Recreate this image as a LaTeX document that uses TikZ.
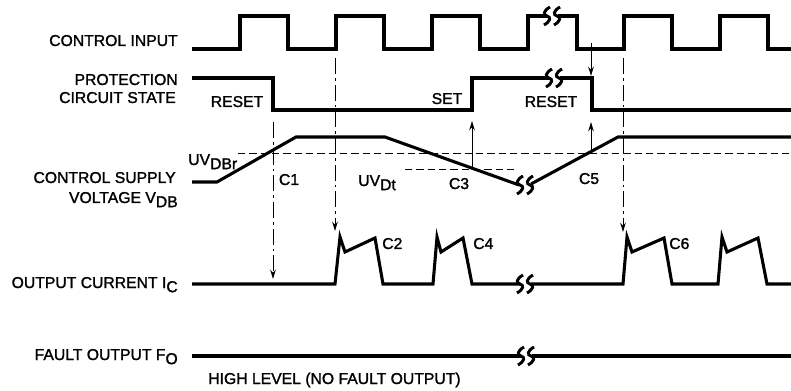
\documentclass[tikz,border=0pt]{standalone}
\usepackage{fontspec}
\setmainfont{Liberation Sans}[FakeBold=1.4]
\usetikzlibrary{arrows.meta}
\newcommand\sbs[1]{\raisebox{-0.5ex}{#1}}
\begin{document}
\begin{tikzpicture}[x=0.75pt,y=-0.75pt,
  sig/.style={line width=2.3pt, line join=miter, line cap=butt},
  thr/.style={line width=0.7pt, dash pattern=on 5.5pt off 3pt},
  dd/.style={line width=0.75pt, dash pattern=on 12pt off 3pt on 2pt off 3pt, -{Stealth[length=7pt,width=4.2pt]}},
  sa/.style={line width=0.75pt, -{Stealth[length=7pt,width=4.2pt]}},
  lbl/.style={inner sep=0pt, font=\fontsize{11.8}{13}\selectfont},
  brk/.pic={\draw[line width=2.2pt] (-2,-9) .. controls (-9,-5) and (-9,-1) .. (-5,0) .. controls (-1,1) and (-1,5) .. (-8,9);
            \draw[line width=2.2pt] (8,-9) .. controls (1,-5) and (1,-1) .. (5,0) .. controls (9,1) and (9,5) .. (2,9);}
  ]
\useasboundingbox (0,0) rectangle (791,391);

% left labels
\node[lbl, anchor=base east] (l1) at (178,46) {CONTROL INPUT};
\node[lbl, anchor=base east] (l2a) at (178,85) {PROTECTION};
\node[lbl, anchor=base east] (l2b) at (176,103) {CIRCUIT STATE};
\node[lbl, anchor=base east] (l3a) at (176,183) {CONTROL SUPPLY};
\node[lbl, anchor=base east] (l3b) at (178,203) {VOLTAGE V\sbs{DB}};
\node[lbl, anchor=base east] (l4) at (178,288) {OUTPUT CURRENT I\sbs{C}};
\node[lbl, anchor=base east] (l5) at (178,360) {FAULT OUTPUT F\sbs{O}};
\node[lbl, anchor=base west] (l6) at (208,384) {HIGH LEVEL (NO FAULT OUTPUT)};

% inline labels
\node[lbl, anchor=base] (rs1) at (237,107) {RESET};
\node[lbl, anchor=base] (set) at (447,104) {SET};
\node[lbl, anchor=base] (rs2) at (551,107) {RESET};
\node[lbl, anchor=base west] (uvdbr) at (188,165) {UV\sbs{DBr}};
\node[lbl, anchor=base west] (uvdt) at (358,186) {UV\sbs{Dt}};
\node[lbl, anchor=base] (c1) at (289,185) {C1};
\node[lbl, anchor=base] (c3) at (459,189) {C3};
\node[lbl, anchor=base] (c5) at (589,184) {C5};
\node[lbl, anchor=base west] (c2) at (382,249) {C2};
\node[lbl, anchor=base west] (c4) at (473,249) {C4};
\node[lbl, anchor=base west] (c6) at (669,249) {C6};

% control input
\draw[sig] (192,49) -- (240,49) -- (240,16) -- (288,16) -- (288,49) -- (336,49) -- (336,16) -- (384,16) -- (384,49)
  -- (432,49) -- (432,16) -- (480,16) -- (480,49) -- (528,49) -- (528,16) -- (547,16);
\draw[sig] (558,16) -- (577,16) -- (577,49) -- (624,49) -- (624,16) -- (672,16) -- (672,49) -- (720,49) -- (720,16)
  -- (768,16) -- (768,49) -- (791,49);
\pic at (552,16) {brk};

% protection circuit state
\draw[sig] (192,78) -- (273,78) -- (273,110) -- (472,110) -- (472,78) -- (549,78);
\draw[sig] (560,78) -- (592,78) -- (592,110) -- (791,110);
\pic at (554,78) {brk};

% thresholds
\draw[thr] (238,153) -- (791,153);
\draw[thr] (405,169) -- (517,169);

% control supply voltage
\draw[sig] (192,182) -- (217,182) -- (296,137) -- (385,137) -- (519,185);
\draw[sig] (531,184) -- (618,137) -- (791,137);
\pic at (525,185) {brk};

% output current
\draw[sig] (192,284) -- (335,284) -- (340,237) -- (345,252) -- (375,238) -- (383,284) -- (433,284) -- (437,237)
  -- (441,252) -- (463,238) -- (472,284) -- (520,284);
\draw[sig] (531,284) -- (623,284) -- (627,237) -- (632,252) -- (664,238) -- (672,284) -- (718,284) -- (722,237)
  -- (727,252) -- (758,238) -- (767,284) -- (791,284);
\pic at (525,284) {brk};

% fault output
\draw[sig] (192,356) -- (521,356);
\draw[sig] (532,356) -- (791,356);
\pic at (526,356) {brk};

% arrows
\coordinate (a1s) at (273,122); \coordinate (a1e) at (273,279);
\coordinate (a2s) at (335,58);  \coordinate (a2e) at (335,231);
\coordinate (a3s) at (623,58);  \coordinate (a3e) at (623,232);
\coordinate (a4s) at (591,43);  \coordinate (a4e) at (591,76);
\coordinate (a5s) at (472,169); \coordinate (a5e) at (472,121);
\coordinate (a6s) at (591,152); \coordinate (a6e) at (591,122);
\draw[dd] (a1s) -- (a1e);
\draw[dd] (a2s) -- (a2e);
\draw[dd] (a3s) -- (a3e);
\draw[sa] (a4s) -- (a4e);
\draw[sa] (a5s) -- (a5e);
\draw[sa] (a6s) -- (a6e);
\end{tikzpicture}
\end{document}
